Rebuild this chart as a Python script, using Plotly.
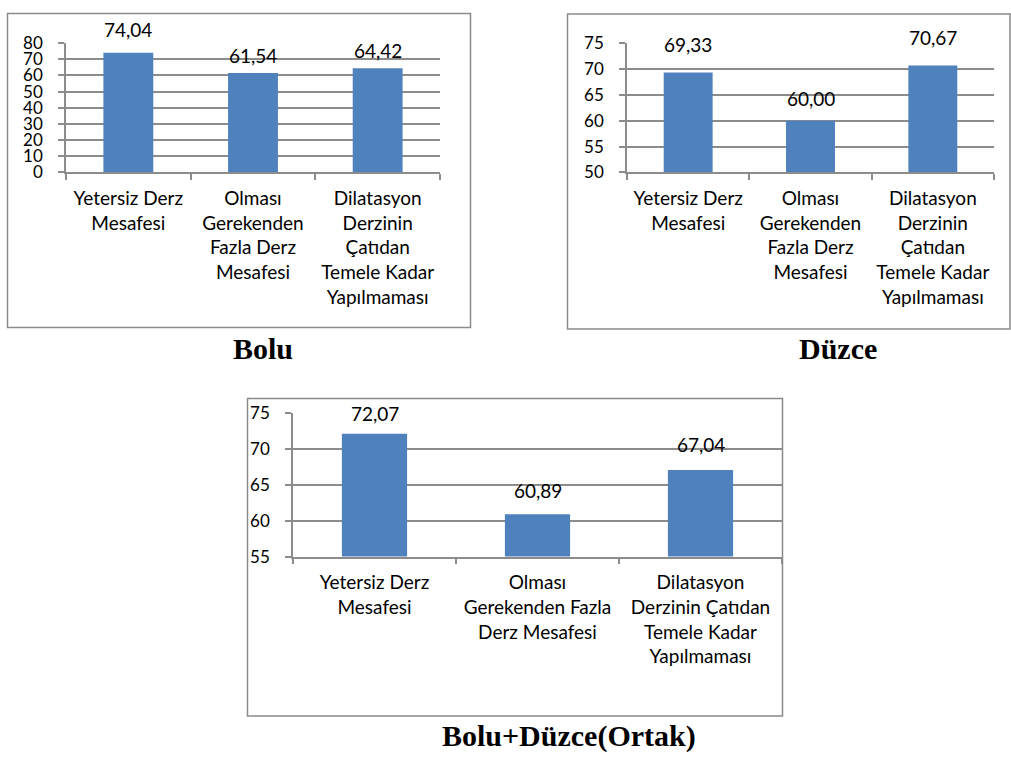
import plotly.graph_objects as go

# Category names and the tick labels (wrapped as they are drawn) for each chart
CATEGORIES = [
    "Yetersiz Derz Mesafesi",
    "Olması Gerekenden Fazla Derz Mesafesi",
    "Dilatasyon Derzinin Çatıdan Temele Kadar Yapılmaması",
]
TICKS_NARROW = [
    "Yetersiz Derz<br>Mesafesi",
    "Olması<br>Gerekenden<br>Fazla Derz<br>Mesafesi",
    "Dilatasyon<br>Derzinin<br>Çatıdan<br>Temele Kadar<br>Yapılmaması",
]
TICKS_WIDE = [
    "Yetersiz Derz<br>Mesafesi",
    "Olması<br>Gerekenden Fazla<br>Derz Mesafesi",
    "Dilatasyon<br>Derzinin Çatıdan<br>Temele Kadar<br>Yapılmaması",
]

# Percentages per region
BOLU = [74.04, 61.54, 64.42]
DUZCE = [69.33, 60.00, 70.67]
ORTAK = [72.07, 60.89, 67.04]

TITLES = ["Bolu", "Düzce", "Bolu+Düzce(Ortak)"]

W, H = 1011, 764
BAR = "#4F81BD"
GRID = "#8C8C8C"
FONT = "Lato"
FS = 19


def px_x(v):
    return v / W


def px_y(v):
    return 1 - v / H


# panel layout in pixels: plot area (x0, x1, ytop, ybottom), frame, y-range, dtick,
# label lifts above bar tops, title centre
panels = [
    dict(values=BOLU, ticks=TICKS_NARROW, area=(66, 440, 33, 166),
         frame=(7.5, 2.5, 470.5, 325.5), yrange=(0, 80), dtick=10,
         lift=[10, 4, 4], title_xy=(263, 347)),
    dict(values=DUZCE, ticks=TICKS_NARROW, area=(627, 994, 33, 166),
         frame=(567.5, 3, 1010, 327), yrange=(50, 75), dtick=5,
         lift=[14, 9, 14], title_xy=(838, 347)),
    dict(values=ORTAK, ticks=TICKS_WIDE, area=(293, 782, 413, 561),
         frame=(247.5, 398.5, 782.5, 725), yrange=(55, 75), dtick=5,
         lift=[7, 10, 12], title_xy=(569, 745)),
]

fig = go.Figure()
annotations = []
shapes = []

for i, p in enumerate(panels, start=1):
    xa = "x" if i == 1 else f"x{i}"
    ya = "y" if i == 1 else f"y{i}"
    fig.add_trace(go.Bar(
        x=CATEGORIES, y=p["values"], marker=dict(color=BAR, line=dict(width=0)),
        xaxis=xa, yaxis=ya, showlegend=False, hoverinfo="skip",
    ))
    x0, x1, yt, yb = p["area"]
    xkey = "xaxis" if i == 1 else f"xaxis{i}"
    ykey = "yaxis" if i == 1 else f"yaxis{i}"
    fig.layout[xkey] = dict(
        domain=[px_x(x0), px_x(x1)], anchor=ya, type="category",
        tickmode="array", tickvals=CATEGORIES, ticktext=p["ticks"],
        tickson="boundaries", ticks="outside", ticklen=6, tickwidth=1.5,
        tickcolor=GRID, showline=True, linecolor=GRID, linewidth=1.5,
        showgrid=False, tickangle=0, ticklabelstandoff=8,
        tickfont=dict(family=FONT, size=FS, color="#000000"), fixedrange=True,
    )
    fig.layout[ykey] = dict(
        domain=[px_y(yb), px_y(yt)], anchor=xa, range=list(p["yrange"]),
        dtick=p["dtick"], tick0=0, showgrid=True, gridcolor=GRID, gridwidth=1.5,
        ticks="outside", ticklen=6, tickwidth=1.5, tickcolor=GRID,
        showline=True, linecolor=GRID, linewidth=1.5, zeroline=False,
        ticklabelstandoff=12,
        tickfont=dict(family=FONT, size=17, color="#000000"), fixedrange=True,
    )
    for cat, v, lift in zip(CATEGORIES, p["values"], p["lift"]):
        annotations.append(dict(
            x=cat, y=v, xref=xa, yref=ya, text=f"{v:.2f}".replace(".", ","),
            showarrow=False, yanchor="bottom", yshift=lift,
            font=dict(family=FONT, size=FS, color="#000000"),
        ))
    fx0, fy0, fx1, fy1 = p["frame"]
    shapes.append(dict(
        type="rect", xref="paper", yref="paper",
        x0=px_x(fx0), x1=px_x(fx1), y0=px_y(fy1), y1=px_y(fy0),
        line=dict(color="#8A8A8A", width=1.5), fillcolor="rgba(0,0,0,0)",
    ))
    tx, ty = p["title_xy"]
    annotations.append(dict(
        x=px_x(tx), y=px_y(ty), xref="paper", yref="paper",
        text=f"<b>{TITLES[i - 1]}</b>", showarrow=False,
        xanchor="center", yanchor="middle",
        font=dict(family="Liberation Serif", size=30, color="#000000"),
    ))

fig.update_layout(
    width=W, height=H, margin=dict(l=0, r=0, t=0, b=0),
    paper_bgcolor="#FFFFFF", plot_bgcolor="#FFFFFF",
    bargap=0.6, annotations=annotations, shapes=shapes,
    font=dict(family=FONT, size=FS, color="#000000"),
)

fig.write_html("out.html")
